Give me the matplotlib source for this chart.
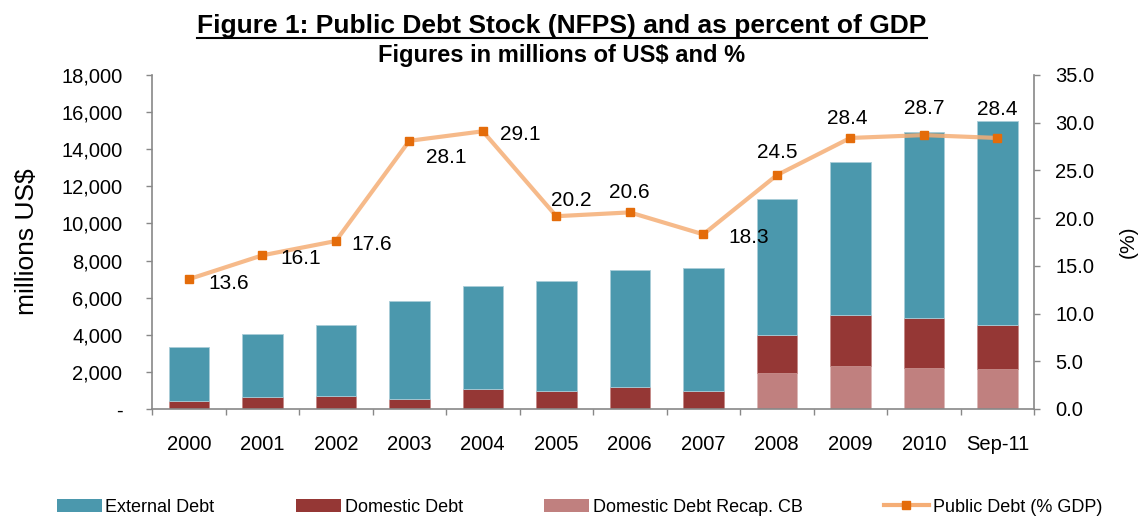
import numpy as np
import matplotlib.pyplot as plt
import matplotlib as mpl
from matplotlib.patches import Patch
from matplotlib.lines import Line2D
from matplotlib.ticker import FuncFormatter, MultipleLocator

# Arial-like font
mpl.rcParams['font.family'] = ['Liberation Sans', 'DejaVu Sans']

# ---------- data (millions of US$ and % of GDP) ----------
years = ['2000', '2001', '2002', '2003', '2004', '2005',
         '2006', '2007', '2008', '2009', '2010', 'Sep-11']
external_debt = [2890, 3420, 3810, 5300, 5550, 5920, 6330, 6620, 7310, 8230, 10040, 10980]
domestic_debt = [450, 620, 720, 520, 1080, 990, 1170, 990, 2040, 2750, 2660, 2390]
recap_cb = [0, 0, 0, 0, 0, 0, 0, 0, 1960, 2340, 2230, 2160]
debt_pct_gdp = [13.6, 16.1, 17.6, 28.1, 29.1, 20.2, 20.6, 18.3, 24.5, 28.4, 28.7, 28.4]

legend_labels = ['External Debt', 'Domestic Debt', 'Domestic Debt Recap. CB', 'Public Debt (% GDP)']

# label offsets in pixels (dx, dy) relative to each point
label_offsets = [(40, -10), (38, -9), (36, -9), (37, -22), (37, -9), (15, 10),
                 (0, 14), (45, -9), (0, 17), (-3, 14), (0, 21), (0, 23)]

# ---------- colours ----------
c_ext = '#4B98AD'
c_dom = '#953735'
c_recap = '#C0807F'
c_line = '#F5AE76'
c_mark = '#E46C0A'
c_axis = '#888888'

fig = plt.figure(figsize=(11.45, 5.16), dpi=100)
ax = fig.add_axes([0.1328, 0.2074, 0.7703, 0.6473])

x = np.arange(len(years))
w = 0.55
ext = np.array(external_debt)
dom = np.array(domestic_debt)
rec = np.array(recap_cb)

ax.bar(x, rec, w, color=c_recap, edgecolor='#dcb9b8', linewidth=0.6)
ax.bar(x, dom, w, bottom=rec, color=c_dom, edgecolor='#c58987', linewidth=0.6)
ax.bar(x, ext, w, bottom=rec + dom, color=c_ext, edgecolor='#a9cdd8', linewidth=0.6)

ax.set_xlim(-0.5, len(years) - 0.5)
ax.set_ylim(0, 18000)
ax.yaxis.set_major_locator(MultipleLocator(2000))
ax.yaxis.set_major_formatter(FuncFormatter(lambda v, p: '-' if v == 0 else f'{v:,.0f}'))

ax.set_xticks(x)
ax.set_xticklabels(years)
ax.set_xticks(np.arange(-0.5, len(years), 1), minor=True)
ax.tick_params(axis='x', which='major', length=0, pad=19, labelsize=14.5)
ax.tick_params(axis='x', which='minor', length=4.5, width=1, color=c_axis, direction='out')
ax.tick_params(axis='y', length=4.3, width=1, color=c_axis, pad=17, labelsize=14.5)

for s in ['top', 'right']:
    ax.spines[s].set_visible(False)
for s in ['left', 'bottom']:
    ax.spines[s].set_color(c_axis)
    ax.spines[s].set_linewidth(1.2)

ax.set_ylabel('millions US$', fontsize=19)
ax.yaxis.set_label_coords(-0.128, 0.5)

# ---------- secondary axis: % of GDP ----------
ax2 = ax.twinx()
ax2.plot(x, debt_pct_gdp, color=c_line, lw=3, alpha=0.85, zorder=2)
ax2.plot(x, debt_pct_gdp, 's', color=c_mark, ms=6, zorder=3)

for xi, v, (dx, dy) in zip(x, debt_pct_gdp, label_offsets):
    ax2.annotate(f'{v:.1f}', (xi, v), xytext=(dx, dy), textcoords='offset pixels',
                 ha='center', va='baseline', fontsize=15)

ax2.set_ylim(0, 35)
ax2.yaxis.set_major_locator(MultipleLocator(5))
ax2.yaxis.set_major_formatter(FuncFormatter(lambda v, p: f'{v:.1f}'))
ax2.tick_params(axis='y', length=4.3, width=1, color=c_axis, pad=11, labelsize=14.5)
for s in ['top', 'left', 'bottom']:
    ax2.spines[s].set_visible(False)
ax2.spines['right'].set_color(c_axis)
ax2.spines['right'].set_linewidth(1.2)
ax2.set_ylabel('(%)', fontsize=15)
ax2.yaxis.set_label_coords(1.096, 0.5)

# ---------- titles ----------
t = fig.text(0.4908, 0.936, 'Figure 1: Public Debt Stock (NFPS) and as percent of GDP',
             ha='center', va='baseline', fontsize=19, fontweight='bold')
fig.text(0.4908, 0.8798, 'Figures in millions of US$ and %',
         ha='center', va='baseline', fontsize=17, fontweight='bold')

# underline the main title
fig.canvas.draw()
bb = t.get_window_extent().transformed(fig.transFigure.inverted())
fig.add_artist(Line2D([bb.x0, bb.x1], [0.9254, 0.9254], transform=fig.transFigure,
                      color='black', lw=1.5))

# ---------- legend ----------
handles = [Patch(facecolor=c_ext), Patch(facecolor=c_dom), Patch(facecolor=c_recap),
           Line2D([], [], color=c_line, lw=3, marker='s', ms=6,
                  markerfacecolor=c_mark, markeredgecolor=c_mark)]
fig.legend(handles, legend_labels, loc='center', bbox_to_anchor=(0.506, 0.017), ncol=4,
           frameon=False, fontsize=13, handlelength=2.5, handletextpad=0.2,
           columnspacing=4.5, numpoints=1)

plt.savefig('out.png', dpi=100)
